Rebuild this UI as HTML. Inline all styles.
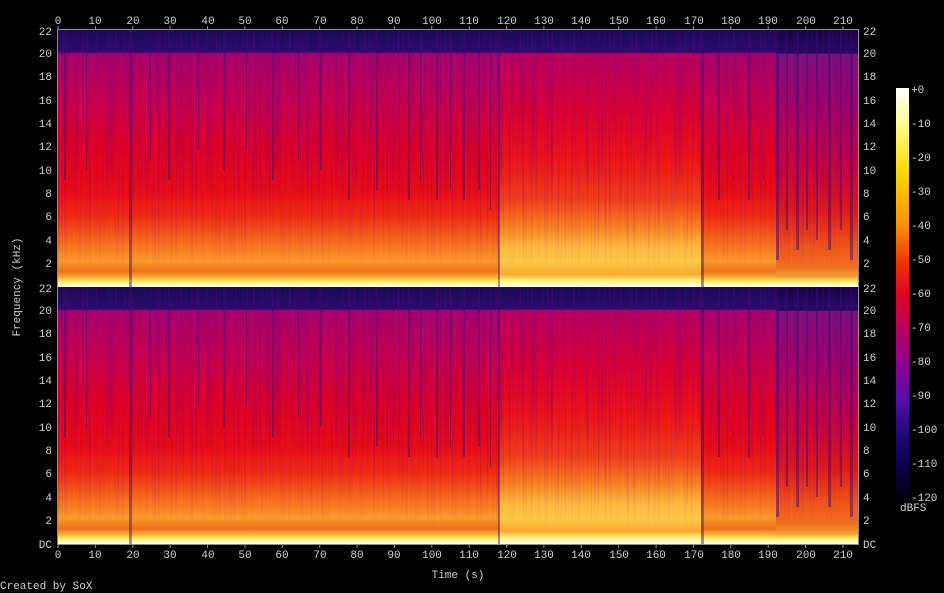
<!DOCTYPE html>
<html><head><meta charset="utf-8"><style>
body{margin:0;background:#000;}
svg{display:block}
text{font-family:"Liberation Mono",monospace;font-size:11px;fill:#d0d0d0}
</style></head><body>
<svg width="944" height="593" xmlns="http://www.w3.org/2000/svg">
<defs>
<filter id="tex" x="0" y="0" width="100%" height="100%">
<feTurbulence type="fractalNoise" baseFrequency="0.45 0.006" numOctaves="2" seed="3"/>
<feColorMatrix type="matrix" values="0 0 0 0 0.15  0 0 0 0 0  0 0 0 0 0.3  2.2 0 0 0 -1.0"/>
</filter>
<linearGradient id="fade" x1="0" y1="0" x2="0" y2="1">
<stop offset="0" stop-color="#fff"/><stop offset="0.6" stop-color="#fff"/><stop offset="1" stop-color="#000"/>
</linearGradient>
<mask id="fm"><rect x="0" y="0" width="800" height="240" fill="url(#fade)"/></mask>
<linearGradient id="base" x1="0" y1="0" x2="0" y2="1">
<stop offset="0" stop-color="#160a52"/>
<stop offset="0.085" stop-color="#2a0c6c"/>
<stop offset="0.092" stop-color="#a8006a"/>
<stop offset="0.27" stop-color="#c8004c"/>
<stop offset="0.45" stop-color="#de0024"/>
<stop offset="0.64" stop-color="#ea1012"/>
<stop offset="0.73" stop-color="#f03010"/>
<stop offset="0.82" stop-color="#f66a1c"/>
<stop offset="0.90" stop-color="#f89a2c"/>
<stop offset="0.94" stop-color="#f07018"/>
<stop offset="0.965" stop-color="#f8b838"/>
<stop offset="0.98" stop-color="#fff070"/>
<stop offset="1" stop-color="#ffffe8"/>
</linearGradient>
<linearGradient id="mid" x1="0" y1="0" x2="0" y2="1">
<stop offset="0" stop-color="#160a52"/>
<stop offset="0.085" stop-color="#2a0c6c"/>
<stop offset="0.092" stop-color="#b8005e"/>
<stop offset="0.30" stop-color="#d80034"/>
<stop offset="0.5" stop-color="#ec1414"/>
<stop offset="0.66" stop-color="#f44018"/>
<stop offset="0.76" stop-color="#f88020"/>
<stop offset="0.84" stop-color="#fcb83c"/>
<stop offset="0.90" stop-color="#fcc848"/>
<stop offset="0.95" stop-color="#f8a830"/>
<stop offset="0.975" stop-color="#fff080"/>
<stop offset="1" stop-color="#ffffe8"/>
</linearGradient>
<linearGradient id="end" x1="0" y1="0" x2="0" y2="1">
<stop offset="0" stop-color="#120842"/>
<stop offset="0.09" stop-color="#220a62"/>
<stop offset="0.095" stop-color="#80107a"/>
<stop offset="0.3" stop-color="#a80064"/>
<stop offset="0.5" stop-color="#cc003c"/>
<stop offset="0.7" stop-color="#e01818"/>
<stop offset="0.85" stop-color="#f05818"/>
<stop offset="0.92" stop-color="#f07020"/>
<stop offset="0.96" stop-color="#f0a030"/>
<stop offset="0.98" stop-color="#fff070"/>
<stop offset="1" stop-color="#ffffe8"/>
</linearGradient>
<linearGradient id="cb" x1="0" y1="0" x2="0" y2="1">
<stop offset="0" stop-color="#ffffff"/>
<stop offset="0.083" stop-color="#ffff90"/>
<stop offset="0.2" stop-color="#ffd800"/>
<stop offset="0.33" stop-color="#f89000"/>
<stop offset="0.42" stop-color="#f03000"/>
<stop offset="0.5" stop-color="#e00028"/>
<stop offset="0.58" stop-color="#b80060"/>
<stop offset="0.67" stop-color="#8a0098"/>
<stop offset="0.75" stop-color="#5010a8"/>
<stop offset="0.83" stop-color="#200878"/>
<stop offset="0.92" stop-color="#080040"/>
<stop offset="1" stop-color="#000000"/>
</linearGradient>
<g id="ch">
<rect x="0" y="0" width="800" height="257" fill="url(#base)"/>
<rect x="441" y="0" width="202" height="257" fill="url(#mid)"/>
<rect x="718" y="0" width="82" height="257" fill="url(#end)"/>
<g mask="url(#fm)"><rect x="0" y="0" width="800" height="240" filter="url(#tex)" opacity="0.5"/></g>
<g fill="#3a0a70" opacity="0.45">
<rect x="6" y="0" width="2" height="150"/><rect x="28" y="0" width="1" height="140"/><rect x="71" y="0" width="3" height="257"/>
<rect x="92" y="0" width="1" height="130"/><rect x="110" y="0" width="2" height="150"/><rect x="140" y="0" width="1" height="120"/>
<rect x="165" y="0" width="2" height="140"/><rect x="188" y="0" width="1" height="120"/><rect x="214" y="0" width="2" height="150"/>
<rect x="240" y="0" width="1" height="130"/><rect x="262" y="0" width="2" height="140"/><rect x="290" y="0" width="2" height="170"/>
<rect x="305" y="0" width="1" height="140"/><rect x="318" y="0" width="2" height="160"/><rect x="335" y="0" width="1" height="150"/>
<rect x="350" y="0" width="2" height="170"/><rect x="362" y="0" width="1" height="150"/><rect x="378" y="0" width="2" height="170"/>
<rect x="392" y="0" width="1" height="160"/><rect x="405" y="0" width="2" height="170"/><rect x="420" y="0" width="2" height="160"/>
<rect x="432" y="0" width="1" height="180"/><rect x="440" y="0" width="2" height="257"/>
<rect x="643" y="0" width="3" height="257"/><rect x="660" y="0" width="2" height="170"/><rect x="675" y="0" width="1" height="150"/>
<rect x="690" y="0" width="2" height="170"/><rect x="705" y="0" width="1" height="150"/>
<rect x="718" y="0" width="3" height="230"/><rect x="728" y="0" width="2" height="200"/><rect x="738" y="0" width="3" height="220"/>
<rect x="748" y="0" width="2" height="200"/><rect x="758" y="0" width="2" height="210"/><rect x="770" y="0" width="3" height="220"/>
<rect x="782" y="0" width="2" height="200"/><rect x="792" y="0" width="3" height="230"/>
</g>
</g>
</defs>
<rect width="944" height="593" fill="#000"/>
<use href="#ch" x="58" y="30"/>
<use href="#ch" x="58" y="287"/>
<rect x="57.5" y="29.5" width="801" height="515" fill="none" stroke="#909090"/>
<g stroke="#909090">
<path d="M58 29v-3M95.4 29v-3M132.8 29v-3M170.1 29v-3M207.5 29v-3M244.9 29v-3M282.3 29v-3M319.7 29v-3M357 29v-3M394.4 29v-3M431.8 29v-3M469.2 29v-3M506.6 29v-3M543.9 29v-3M581.3 29v-3M618.7 29v-3M656.1 29v-3M693.5 29v-3M730.8 29v-3M768.2 29v-3M805.6 29v-3M843 29v-3"/>
<path d="M58 545v3M95.4 545v3M132.8 545v3M170.1 545v3M207.5 545v3M244.9 545v3M282.3 545v3M319.7 545v3M357 545v3M394.4 545v3M431.8 545v3M469.2 545v3M506.6 545v3M543.9 545v3M581.3 545v3M618.7 545v3M656.1 545v3M693.5 545v3M730.8 545v3M768.2 545v3M805.6 545v3M843 545v3"/>
</g>
<g text-anchor="middle">
<text x="58" y="24">0</text><text x="95" y="24">10</text><text x="133" y="24">20</text><text x="170" y="24">30</text><text x="208" y="24">40</text><text x="245" y="24">50</text><text x="282" y="24">60</text><text x="320" y="24">70</text><text x="357" y="24">80</text><text x="394" y="24">90</text><text x="432" y="24">100</text><text x="469" y="24">110</text><text x="507" y="24">120</text><text x="544" y="24">130</text><text x="581" y="24">140</text><text x="619" y="24">150</text><text x="656" y="24">160</text><text x="694" y="24">170</text><text x="731" y="24">180</text><text x="768" y="24">190</text><text x="806" y="24">200</text><text x="843" y="24">210</text>
<text x="58" y="558">0</text><text x="95" y="558">10</text><text x="133" y="558">20</text><text x="170" y="558">30</text><text x="208" y="558">40</text><text x="245" y="558">50</text><text x="282" y="558">60</text><text x="320" y="558">70</text><text x="357" y="558">80</text><text x="394" y="558">90</text><text x="432" y="558">100</text><text x="469" y="558">110</text><text x="507" y="558">120</text><text x="544" y="558">130</text><text x="581" y="558">140</text><text x="619" y="558">150</text><text x="656" y="558">160</text><text x="694" y="558">170</text><text x="731" y="558">180</text><text x="768" y="558">190</text><text x="806" y="558">200</text><text x="843" y="558">210</text>
<text x="458" y="578">Time (s)</text>
</g>
<g text-anchor="end">
<text x="52" y="35">22</text><text x="52" y="57">20</text><text x="52" y="80">18</text><text x="52" y="104">16</text><text x="52" y="127">14</text><text x="52" y="150">12</text><text x="52" y="174">10</text><text x="52" y="197">8</text><text x="52" y="220">6</text><text x="52" y="244">4</text><text x="52" y="267">2</text>
<text x="52" y="292">22</text><text x="52" y="314">20</text><text x="52" y="337">18</text><text x="52" y="361">16</text><text x="52" y="384">14</text><text x="52" y="407">12</text><text x="52" y="431">10</text><text x="52" y="454">8</text><text x="52" y="477">6</text><text x="52" y="501">4</text><text x="52" y="524">2</text><text x="52" y="548">DC</text>
</g>
<g>
<text x="863" y="35">22</text><text x="863" y="57">20</text><text x="863" y="80">18</text><text x="863" y="104">16</text><text x="863" y="127">14</text><text x="863" y="150">12</text><text x="863" y="174">10</text><text x="863" y="197">8</text><text x="863" y="220">6</text><text x="863" y="244">4</text><text x="863" y="267">2</text>
<text x="863" y="292">22</text><text x="863" y="314">20</text><text x="863" y="337">18</text><text x="863" y="361">16</text><text x="863" y="384">14</text><text x="863" y="407">12</text><text x="863" y="431">10</text><text x="863" y="454">8</text><text x="863" y="477">6</text><text x="863" y="501">4</text><text x="863" y="524">2</text><text x="863" y="548">DC</text>
</g>
<text transform="translate(20,287) rotate(-90)" text-anchor="middle">Frequency (kHz)</text>
<rect x="896" y="88" width="13" height="418" fill="url(#cb)"/>
<g>
<text x="911" y="93">+0</text><text x="911" y="127">-10</text><text x="911" y="161">-20</text><text x="911" y="195">-30</text><text x="911" y="229">-40</text><text x="911" y="263">-50</text><text x="911" y="297">-60</text><text x="911" y="331">-70</text><text x="911" y="365">-80</text><text x="911" y="399">-90</text><text x="911" y="433">-100</text><text x="911" y="467">-110</text><text x="911" y="501">-120</text>
<text x="900" y="511">dBFS</text>
</g>
<text x="0" y="589">Created by SoX</text>
</svg>
</body></html>
